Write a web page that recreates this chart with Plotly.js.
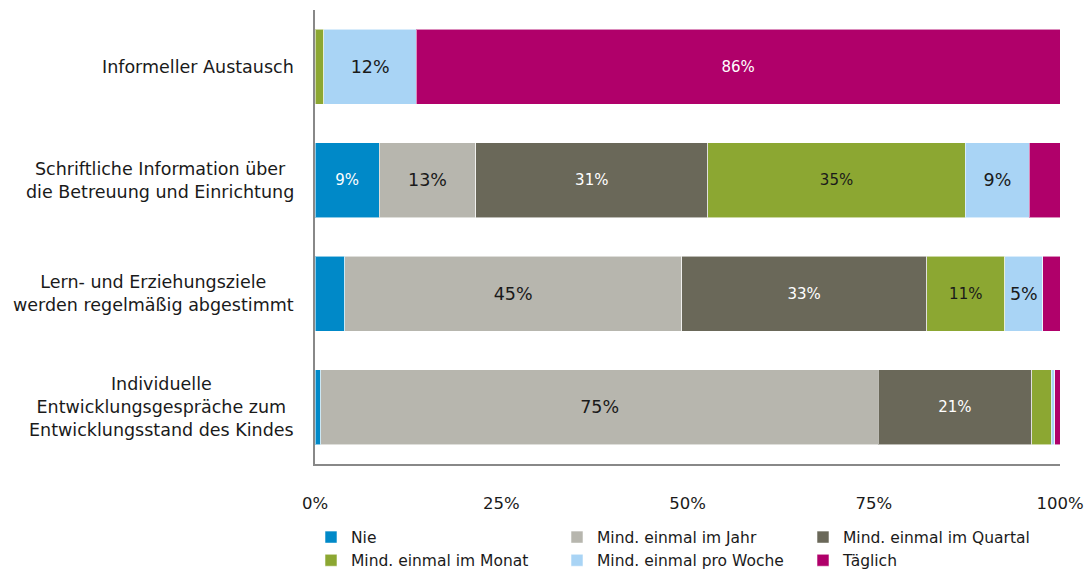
<!DOCTYPE html>
<html>
<head>
<meta charset="utf-8">
<script src="https://cdn.plot.ly/plotly-3.0.1.min.js"></script>
<style>
  html, body { margin: 0; padding: 0; background: #fff; }
  #chart { width: 1092px; height: 572px; }
</style>
</head>
<body>
<div id="chart"></div>
<script>
// Categories (top to bottom)
const categories = [
  "Informeller Austausch",
  "Schriftliche Information über<br>die Betreuung und Einrichtung",
  "Lern- und Erziehungsziele<br>werden regelmäßig abgestimmt",
  "Individuelle<br>Entwicklungsgespräche zum<br>Entwicklungsstand des Kindes"
];

// Series values (percent), one value per category
const nie      = [0.0, 8.6, 4.0, 0.8];
const jahr     = [0.0, 13.0, 45.2, 74.8];
const quartal  = [0.0, 31.1, 32.9, 20.6];
const monat    = [1.2, 34.6, 10.5, 2.6];
const woche    = [12.4, 8.6, 5.1, 0.5];
const taeglich = [86.4, 4.1, 2.3, 0.7];

const seriesNames = [
  "Nie",
  "Mind. einmal im Jahr",
  "Mind. einmal im Quartal",
  "Mind. einmal im Monat",
  "Mind. einmal pro Woche",
  "Täglich"
];

const tickVals = [0, 25, 50, 75, 100];
const tickText = ["0%", "25%", "50%", "75%", "100%"];

// Styles
const colors = ["#0089C8", "#B7B6AE", "#6A6859", "#8CA732", "#A9D4F5", "#B0006A"];
const textColors = ["#ffffff", "#1a1a1a", "#ffffff", "#1a1a1a", "#1a1a1a", "#ffffff"];
const textSizes = [15, 17.5, 15, 15, 17.5, 15];
const FONT = "DejaVu Sans, Verdana, sans-serif";

const allSeries = [nie, jahr, quartal, monat, woche, taeglich];

const traces = allSeries.map((vals, i) => ({
  type: "bar",
  orientation: "h",
  name: seriesNames[i],
  y: categories,
  x: vals,
  text: vals.map(v => v >= 5 ? Math.round(v) + "%" : ""),
  textposition: "inside",
  insidetextanchor: "middle",
  textangle: 0,
  constraintext: "none",
  insidetextfont: { family: FONT, size: textSizes[i], color: textColors[i] },
  marker: { color: colors[i], line: { color: "rgba(255,255,255,0.55)", width: 1 } },
  width: 0.66,
  hoverinfo: "name+x"
}));

const annotations = categories.map(c => ({
  xref: "paper", yref: "y",
  x: 0, y: c,
  xanchor: "right", yanchor: "middle",
  xshift: -19,
  align: "center",
  text: c,
  showarrow: false,
  font: { family: FONT, size: 17.5, color: "#1a1a1a" }
}));

const layout = {
  width: 1092,
  height: 572,
  margin: { l: 315, r: 32, t: 10, b: 108, autoexpand: false },
  paper_bgcolor: "#ffffff",
  plot_bgcolor: "#ffffff",
  barmode: "stack",
  showlegend: true,
  xaxis: {
    range: [0, 100],
    tickvals: tickVals,
    ticktext: tickText,
    showgrid: false,
    zeroline: false,
    showline: true,
    linecolor: "#888888",
    linewidth: 2,
    ticks: "outside",
    ticklen: 23,
    tickcolor: "rgba(0,0,0,0)",
    tickfont: { family: FONT, size: 16.5, color: "#1a1a1a" },
    fixedrange: true
  },
  yaxis: {
    type: "category",
    categoryorder: "array",
    categoryarray: categories,
    autorange: "reversed",
    showticklabels: false,
    showgrid: false,
    zeroline: false,
    showline: true,
    linecolor: "#888888",
    linewidth: 2,
    ticks: "",
    fixedrange: true
  },
  legend: {
    orientation: "h",
    xref: "container",
    yref: "container",
    x: 0.2848,
    xanchor: "left",
    y: 0.09,
    yanchor: "top",
    entrywidth: 201,
    entrywidthmode: "pixels",
    traceorder: "normal",
    font: { family: FONT, size: 15.5, color: "#1a1a1a" },
    bgcolor: "rgba(0,0,0,0)"
  },
  annotations: annotations
};

Plotly.newPlot("chart", traces, layout, { displayModeBar: false, staticPlot: true });
</script>
</body>
</html>
